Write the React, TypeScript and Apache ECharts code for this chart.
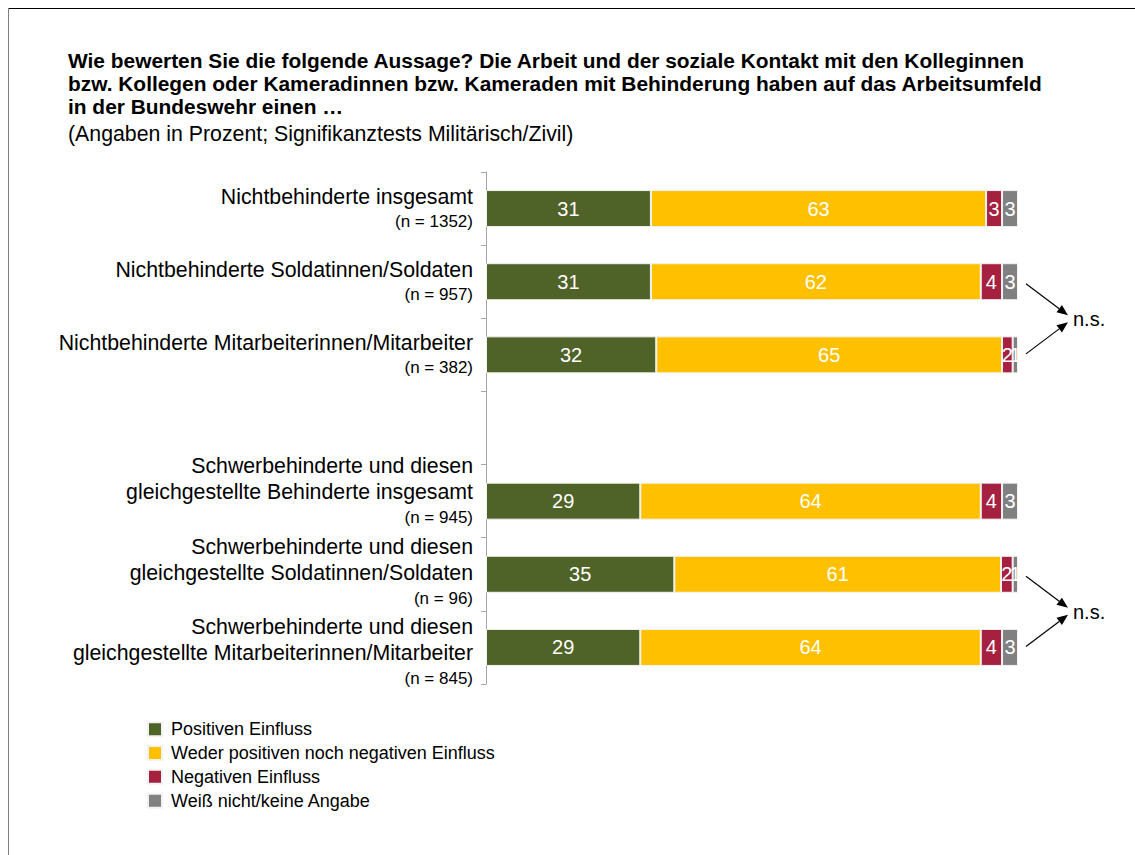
import React, { useEffect, useRef } from "react";
import * as echarts from "echarts";

const categories = [
  "Nichtbehinderte insgesamt",
  "Nichtbehinderte Soldatinnen/Soldaten",
  "Nichtbehinderte Mitarbeiterinnen/Mitarbeiter",
  "",
  "Schwerbehinderte und diesen\ngleichgestellte Behinderte insgesamt",
  "Schwerbehinderte und diesen\ngleichgestellte Soldatinnen/Soldaten",
  "Schwerbehinderte und diesen\ngleichgestellte Mitarbeiterinnen/Mitarbeiter",
];
const sampleSizes = ["(n = 1352)", "(n = 957)", "(n = 382)", "", "(n = 945)", "(n = 96)", "(n = 845)"];

const seriesNames = [
  "Positiven Einfluss",
  "Weder positiven noch negativen Einfluss",
  "Negativen Einfluss",
  "Weiß nicht/keine Angabe",
];
const positive = [31, 31, 32, null, 29, 35.4, 29];
const neutral = [63, 62, 65, null, 64, 61.4, 64];
const negative = [3, 4, 2, null, 4, 2.2, 4];
const unknown = [3, 3, 1, null, 3, 1.0, 3];
const seriesColors = ["#4F6228", "#FFC000", "#A5213F", "#808080"];

const significancePairs: [number, number][] = [
  [1, 2],
  [5, 6],
];
const significanceLabel = "n.s.";

const titleText =
  "Wie bewerten Sie die folgende Aussage? Die Arbeit und der soziale Kontakt mit den Kolleginnen\nbzw. Kollegen oder Kameradinnen bzw. Kameraden mit Behinderung haben auf das Arbeitsumfeld\nin der Bundeswehr einen …";
const subtitleText = "(Angaben in Prozent; Signifikanztests Militärisch/Zivil)";

// vertical label padding per row (style only): [top, bottom]
const labelPadding: [number, number][] = [
  [0, 0],
  [0, 0],
  [0, 0],
  [0, 0],
  [0, 20],
  [0, 4],
  [10, 0],
];

const FONT = "'Liberation Sans', Arial, Helvetica, sans-serif";

export default function App() {
  const ref = useRef<HTMLDivElement>(null);

  useEffect(() => {
    if (!ref.current) return;
    const chart = echarts.init(ref.current, undefined, { renderer: "svg" });
    const values = [positive, neutral, negative, unknown];

    const option: any = {
      animation: false,
      backgroundColor: "#ffffff",
      textStyle: { fontFamily: FONT },
      title: {
        text: titleText,
        subtext: subtitleText,
        left: 68,
        top: 49,
        padding: 0,
        itemGap: 4,
        textStyle: { fontFamily: FONT, fontSize: 20.9, fontWeight: "bold", color: "#000", lineHeight: 23 },
        subtextStyle: { fontFamily: FONT, fontSize: 21.3, color: "#000", lineHeight: 24 },
      },
      legend: {
        orient: "vertical",
        left: 147,
        top: 720,
        padding: 0,
        itemWidth: 14,
        itemHeight: 14,
        itemGap: 5.3,
        icon: "rect",
        data: seriesNames,
        textStyle: { fontFamily: FONT, fontSize: 18, color: "#000", lineHeight: 18.5, padding: [0, 0, 0, 4] },
      },
      grid: { left: 486, right: 117, top: 172, bottom: 171, containLabel: false },
      xAxis: { type: "value", min: 0, max: 100, show: false },
      yAxis: {
        type: "category",
        inverse: true,
        data: categories.map((c, i) => ({
          value: c,
          textStyle: { padding: [labelPadding[i][0], 0, labelPadding[i][1], 0] },
        })),
        axisLine: { show: true, lineStyle: { color: "#A6A6A6", width: 1 } },
        axisTick: { show: true, length: 5, lineStyle: { color: "#A6A6A6" } },
        axisLabel: {
          margin: 13,
          align: "right",
          formatter: (value: string, idx: number) => {
            if (!value) return "";
            const lines = value.split("\n").map((l) => "{a|" + l + "}");
            return lines.join("\n") + "\n{n|" + sampleSizes[idx] + "}";
          },
          rich: {
            a: { fontFamily: FONT, fontSize: 21.3, lineHeight: 26, color: "#000", align: "right" },
            n: { fontFamily: FONT, fontSize: 17, lineHeight: 24, color: "#000", align: "right" },
          },
        },
      },
      series: seriesNames.map((name, i) => ({
        name,
        type: "bar",
        stack: "total",
        barWidth: 37,
        data: values[i],
        itemStyle: { color: seriesColors[i], borderColor: "#F2F2F2", borderWidth: 1 },
        label: {
          show: true,
          position: "inside",
          color: "#ffffff",
          fontFamily: FONT,
          fontSize: 20,
          formatter: (p: any) => (p.value == null ? "" : String(Math.round(p.value))),
        },
      })),
    };
    chart.setOption(option);

    const x100 = chart.convertToPixel({ xAxisIndex: 0 }, 100) as number;
    const graphics: any[] = [
      { type: "line", shape: { x1: 8, y1: 8.5, x2: 1135, y2: 8.5 }, style: { stroke: "#000", lineWidth: 1 } },
      { type: "line", shape: { x1: 8.5, y1: 8, x2: 8.5, y2: 855 }, style: { stroke: "#7F7F7F", lineWidth: 1 } },
    ];
    const arrow = (x1: number, y1: number, x2: number, y2: number) => {
      const ang = Math.atan2(y2 - y1, x2 - x1);
      const len = 11;
      const w = 4.5;
      const bx = x2 - len * Math.cos(ang);
      const by = y2 - len * Math.sin(ang);
      const px = -Math.sin(ang) * w;
      const py = Math.cos(ang) * w;
      graphics.push({
        type: "line",
        shape: { x1, y1, x2: bx, y2: by },
        style: { stroke: "#000", lineWidth: 1.2 },
      });
      graphics.push({
        type: "polygon",
        shape: { points: [[x2, y2], [bx + px, by + py], [bx - px, by - py]] },
        style: { fill: "#000" },
      });
    };
    significancePairs.forEach(([a, b]) => {
      const ya = chart.convertToPixel({ yAxisIndex: 0 }, categories[a]) as number;
      const yb = chart.convertToPixel({ yAxisIndex: 0 }, categories[b]) as number;
      const mid = (ya + yb) / 2;
      const sx = x100 + 8;
      const ex = x100 + 50;
      arrow(sx, ya + 2, ex, mid - 3);
      arrow(sx, yb - 1, ex, mid + 4);
      graphics.push({
        type: "text",
        x: ex + 5,
        y: mid + 1,
        style: { text: significanceLabel, fontFamily: FONT, fontSize: 20, fill: "#000", verticalAlign: "middle", align: "left" },
      });
    });
    chart.setOption({ graphic: graphics });

    return () => chart.dispose();
  }, []);

  return <div ref={ref} style={{ position: "fixed", left: 0, top: 0, width: 1135, height: 855 }} />;
}
